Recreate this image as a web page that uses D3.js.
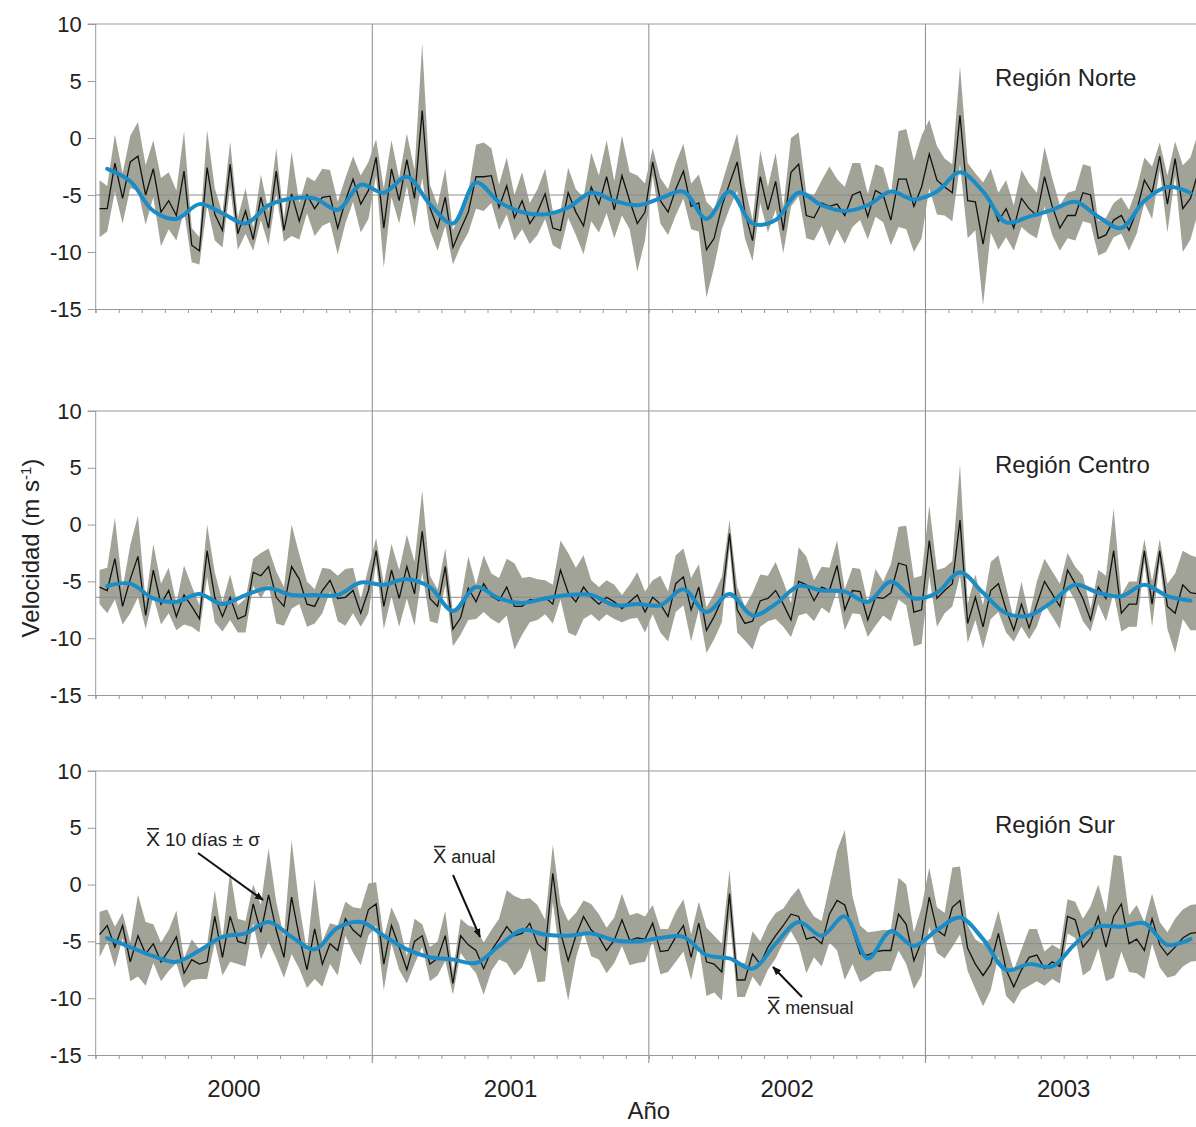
<!DOCTYPE html>
<html>
<head>
<meta charset="utf-8">
<script src="https://cdn.jsdelivr.net/npm/d3@7"></script>
<style>
  body { margin: 0; background: #fff; }
  svg text { font-family: "Liberation Sans", Arial, sans-serif; fill: #222; }
</style>
</head>
<body>
<div id="chart"></div>
<script>
// ---- data (10-day means, their sigma, monthly means) ----
const years = [2000, 2001, 2002, 2003];
const regionNames = ["Región Norte", "Región Centro", "Región Sur"];
const yTicks = [10, 5, 0, -5, -10, -15];
const annualMeans = [-5.0, -6.4, -5.2];

const norteMean = [
  -6.2,-6.2,-2.2,-5.3,-2.1,-1.6,-5.0,-2.7,-6.5,-5.5,-6.8,-2.9,-9.4,-9.9,-2.6,-6.7,-8.1,-2.3,-8.4,-6.4,-8.9,-5.2,-7.9,-2.9,-8.1,-4.9,-7.3,-5.0,-6.2,-5.2,-5.1,-7.9,-5.5,-3.6,-5.8,-4.6,
  -1.7,-7.9,-2.7,-5.5,-1.9,-5.3,2.4,-6.1,-7.9,-5.2,-9.6,-8.0,-6.5,-3.4,-3.4,-3.3,-6.1,-4.2,-7.0,-5.5,-7.5,-6.5,-4.9,-7.9,-8.1,-4.8,-6.5,-7.7,-4.3,-5.8,-3.4,-6.3,-3.3,-5.5,-7.5,-6.5,
  -2.1,-5.5,-6.5,-4.5,-2.9,-6.0,-5.7,-9.8,-8.8,-6.0,-4.0,-2.1,-6.5,-9.0,-3.4,-6.3,-3.8,-8.1,-3.0,-2.3,-6.8,-7.0,-5.7,-6.0,-5.8,-6.8,-5.0,-4.7,-6.9,-4.6,-5.0,-7.2,-3.6,-3.6,-6.0,-4.3,
  -1.4,-3.7,-4.3,-4.8,2.0,-5.5,-5.6,-9.3,-5.5,-7.3,-6.2,-7.9,-5.3,-6.2,-6.8,-3.4,-6.0,-7.9,-6.8,-6.8,-4.8,-5.0,-8.8,-8.5,-7.2,-6.8,-8.1,-6.4,-3.7,-4.8,-1.6,-5.8,-1.8,-6.2,-5.3,-3.0
];
const norteSd = [
  2.5,2.0,2.5,2.2,2.3,3.0,2.6,2.5,3.0,2.5,2.2,3.5,1.5,1.2,3.3,2.3,1.5,2.0,1.4,2.0,1.0,2.0,1.5,2.0,1.0,3.7,1.6,1.6,2.4,2.5,2.3,2.3,2.0,2.0,2.5,2.5,
  1.6,3.5,2.5,2.0,2.3,2.5,5.9,2.0,2.0,2.5,1.5,1.5,1.8,2.8,3.0,2.4,2.0,2.5,2.0,2.5,1.8,2.0,2.2,1.5,1.7,2.2,2.0,2.5,3.0,2.5,3.2,2.5,3.5,2.5,4.2,2.5,
  1.2,2.0,2.0,2.3,2.4,2.0,2.5,4.2,2.5,2.0,2.2,2.5,2.3,1.8,2.3,2.0,2.5,2.0,3.0,2.8,2.0,2.0,2.0,3.5,2.2,2.5,2.8,2.5,2.0,2.3,2.4,2.2,4.2,4.4,4.0,4.5,
  3.0,3.0,2.5,2.5,4.3,3.3,2.5,5.4,2.8,2.5,2.5,2.0,2.5,2.2,2.0,2.6,2.5,2.0,2.0,2.2,2.5,2.5,1.5,1.5,1.5,1.6,1.8,2.0,2.0,2.3,1.2,2.5,1.5,3.8,3.6,3.5
];
const norteMonthly = [
  -2.7,-3.8,-6.4,-7.1,-5.8,-6.6,-7.5,-5.9,-5.3,-5.3,-6.3,-4.1,
  -4.8,-3.4,-5.8,-7.5,-3.9,-5.6,-6.5,-6.7,-6.1,-4.8,-5.5,-5.9,
  -5.3,-4.7,-7.1,-4.7,-7.5,-7.2,-4.8,-5.9,-6.4,-5.9,-4.7,-5.4,
  -4.7,-3.0,-4.7,-7.4,-6.9,-6.3,-5.6,-6.9,-7.9,-5.5,-4.3,-4.8
];

const centroMean = [
  -5.5,-5.8,-3.0,-7.2,-4.8,-2.8,-8.0,-4.0,-7.0,-5.8,-8.1,-6.2,-7.2,-8.3,-2.3,-6.4,-8.1,-6.4,-8.3,-8.0,-4.2,-4.5,-3.7,-6.4,-7.2,-3.7,-4.8,-7.0,-7.2,-5.8,-4.9,-6.5,-6.4,-5.8,-7.8,-5.8,
  -2.3,-7.2,-4.0,-6.5,-3.7,-6.1,-0.6,-6.5,-7.2,-3.7,-9.2,-8.2,-5.6,-6.8,-5.2,-6.3,-6.7,-5.5,-7.2,-7.2,-6.6,-6.6,-6.4,-7.0,-4.0,-6.0,-6.8,-5.5,-6.4,-7.0,-6.4,-6.8,-7.4,-6.8,-6.2,-7.7,
  -6.4,-7.0,-8.1,-5.2,-4.6,-7.5,-5.5,-9.3,-8.1,-6.6,-0.8,-7.5,-8.7,-8.5,-6.7,-6.5,-5.8,-7.0,-8.4,-5.0,-5.3,-6.7,-5.5,-5.8,-3.6,-7.5,-5.8,-5.9,-8.4,-6.4,-6.5,-6.0,-3.4,-3.6,-7.7,-7.5,
  -1.4,-6.5,-5.8,-5.2,0.4,-8.7,-6.4,-9.0,-5.8,-5.2,-7.5,-9.3,-7.0,-9.1,-7.0,-5.0,-6.1,-7.2,-4.0,-5.2,-6.5,-8.4,-5.5,-6.5,-2.3,-7.8,-7.0,-7.0,-2.3,-7.0,-2.3,-7.2,-7.8,-5.3,-6.0,-6.1
];
const centroSd = [
  1.5,2.0,3.6,1.6,3.0,3.6,1.2,2.3,1.8,2.0,1.2,2.6,1.8,1.2,2.3,2.2,1.3,2.0,1.2,1.5,1.2,2.0,1.6,2.3,1.7,3.7,2.2,2.0,1.5,2.0,1.0,2.0,2.5,2.0,1.2,2.0,
  1.1,2.0,2.3,2.5,2.8,2.8,3.6,2.0,1.5,1.6,1.5,1.5,2.8,1.5,2.5,2.0,2.0,2.5,3.8,2.5,2.0,1.8,1.5,1.7,2.6,3.5,3.0,2.8,1.5,1.5,1.5,1.5,1.2,1.5,2.0,1.8,
  1.5,2.5,2.2,2.5,2.5,2.8,2.0,2.0,2.0,2.0,1.2,2.0,1.5,2.5,2.3,2.0,2.5,2.0,1.5,3.0,2.5,1.8,1.8,2.0,2.2,1.8,2.0,2.0,1.5,2.5,1.5,2.5,3.2,3.5,3.0,3.0,
  3.1,2.5,2.0,2.0,4.9,1.7,2.0,1.9,2.5,2.5,2.0,1.0,2.0,1.0,2.0,2.0,2.0,2.0,1.5,1.5,2.0,1.0,1.5,2.0,3.7,1.6,2.0,2.0,1.0,2.0,1.0,2.0,3.5,3.0,3.3,3.2
];
const centroMonthly = [
  -5.4,-5.2,-6.5,-6.8,-6.1,-7.0,-6.2,-5.6,-6.2,-6.2,-6.2,-5.1,
  -5.3,-4.8,-5.5,-7.6,-5.5,-6.5,-6.9,-6.5,-6.2,-6.2,-7.1,-7.0,
  -7.1,-5.7,-7.7,-6.1,-8.0,-7.0,-5.4,-5.8,-5.9,-6.8,-5.0,-6.5,
  -6.0,-4.2,-6.0,-7.8,-8.0,-6.8,-5.3,-6.0,-6.3,-5.3,-6.3,-6.7
];

const surMean = [
  -4.4,-3.6,-5.5,-3.6,-6.8,-4.5,-6.1,-5.2,-6.8,-5.8,-4.6,-7.8,-6.6,-7.0,-6.8,-2.8,-6.4,-2.8,-5.0,-5.2,-1.7,-4.2,-0.9,-4.0,-6.4,-1.1,-4.6,-7.5,-3.9,-7.0,-5.2,-5.8,-3.0,-4.0,-4.6,-2.2,
  -1.7,-7.0,-3.6,-5.5,-7.5,-5.0,-4.5,-7.0,-6.5,-4.5,-8.7,-4.5,-5.3,-5.8,-7.4,-5.8,-4.8,-3.7,-4.5,-4.3,-3.4,-5.2,-5.8,1.0,-4.2,-6.7,-4.5,-2.8,-4.0,-4.6,-5.8,-4.9,-3.1,-4.9,-4.7,-4.8,
  -3.4,-5.9,-5.8,-4.6,-3.6,-6.4,-3.4,-6.8,-7.0,-7.7,-0.8,-8.4,-8.4,-6.1,-7.0,-5.5,-4.5,-3.6,-2.6,-2.8,-4.8,-4.6,-5.2,-2.6,-1.4,-1.8,-4.0,-6.1,-6.2,-5.9,-5.8,-5.8,-2.6,-3.5,-6.7,-5.0,
  -1.1,-4.0,-4.5,-2.0,-1.4,-5.6,-7.0,-8.0,-7.0,-4.3,-7.5,-9.0,-7.5,-6.4,-6.2,-7.4,-6.8,-7.2,-2.8,-3.1,-5.5,-4.7,-2.8,-5.5,-2.8,-1.7,-5.2,-4.8,-5.8,-3.0,-5.3,-6.2,-5.5,-4.7,-4.3,-4.2
];
const surSd = [
  2.0,1.4,1.8,1.1,1.7,3.6,2.8,1.7,1.7,1.8,2.3,1.3,1.8,1.3,1.5,2.3,1.6,4.0,2.0,2.0,1.7,2.4,4.1,2.5,1.8,5.0,2.8,1.6,4.4,2.0,1.8,2.2,1.5,2.0,2.5,2.3,
  1.9,2.3,1.6,2.0,1.2,2.0,1.0,1.5,1.5,2.2,1.0,1.5,1.7,2.0,2.3,1.8,1.8,3.2,3.5,3.0,2.2,3.4,2.7,2.5,2.5,3.5,2.0,1.4,2.3,2.0,2.0,2.0,2.3,2.2,2.2,2.0,
  1.6,2.0,1.9,2.2,2.3,2.0,1.9,3.0,2.5,2.5,2.1,1.5,1.5,2.0,2.0,2.0,2.0,1.5,1.5,2.5,3.0,1.8,2.0,2.5,4.4,6.6,3.0,2.5,2.0,1.8,1.8,1.8,3.2,3.5,2.5,3.0,
  2.6,2.0,2.0,3.5,3.0,2.0,2.2,2.7,2.3,2.0,2.3,1.5,1.8,2.5,2.3,1.5,1.5,1.5,1.5,1.6,2.5,2.8,2.8,3.0,5.4,4.2,2.5,3.0,2.5,2.2,2.0,2.0,2.5,2.5,2.5,2.5
];
const surMonthly = [
  -4.7,-5.5,-6.3,-6.8,-5.8,-4.6,-4.3,-3.3,-4.6,-5.7,-3.8,-3.3,
  -4.5,-5.7,-6.4,-6.6,-6.9,-5.4,-4.0,-4.4,-4.5,-4.3,-4.9,-5.0,
  -4.7,-4.6,-6.2,-6.5,-7.4,-5.2,-3.3,-4.5,-2.8,-6.5,-4.1,-5.4,
  -4.0,-2.9,-4.8,-7.5,-7.0,-7.2,-5.2,-3.7,-3.7,-3.4,-5.3,-4.8
];

const panels = [
  { name: regionNames[0], mean: norteMean, sd: norteSd, monthly: norteMonthly, annual: annualMeans[0], top: 24, bottom: 309 },
  { name: regionNames[1], mean: centroMean, sd: centroSd, monthly: centroMonthly, annual: annualMeans[1], top: 411, bottom: 695 },
  { name: regionNames[2], mean: surMean, sd: surSd, monthly: surMonthly, annual: annualMeans[2], top: 771, bottom: 1055 }
];

// ---- drawing ----
const width = 1196, height = 1127;
const gridColor = "#9a9a9a";

const svg = d3.select("#chart").append("svg")
  .attr("width", width)
  .attr("height", height);

const defs = svg.append("defs");
defs.append("marker")
  .attr("id", "arrow")
  .attr("viewBox", "0 0 10 10")
  .attr("refX", 9).attr("refY", 5)
  .attr("markerWidth", 9).attr("markerHeight", 9)
  .attr("markerUnits", "userSpaceOnUse")
  .attr("orient", "auto")
  .append("path")
  .attr("d", "M0,1 L10,5 L0,9 Z")
  .attr("fill", "#111");

const x = d3.scaleLinear()
  .domain([years[0], years[years.length - 1] + 1])
  .range([95.7, 1202]);

const tenDayX = i => x(years[0] + (i + 0.5) / 36);
const monthX = j => x(years[0] + (j + 0.5) / 12);

// year boundaries, through all three panels
svg.append("g").selectAll("line")
  .data(years.slice(1))
  .enter().append("line")
  .attr("x1", d => x(d)).attr("x2", d => x(d))
  .attr("y1", panels[0].top).attr("y2", panels[2].bottom + 8)
  .attr("stroke", "#8a8a8a")
  .attr("stroke-width", 1);

panels.forEach(p => {
  const y = d3.scaleLinear().domain([-15, 10]).range([p.bottom, p.top]);
  const g = svg.append("g");

  // top frame line
  g.append("line")
    .attr("x1", x.range()[0] - 8).attr("x2", x.range()[1])
    .attr("y1", y(10)).attr("y2", y(10))
    .attr("stroke", gridColor);

  // band: mean +- sigma
  const area = d3.area()
    .x((d, i) => tenDayX(i))
    .y0((d, i) => y(d - p.sd[i]))
    .y1((d, i) => y(d + p.sd[i]));
  g.append("path")
    .datum(p.mean)
    .attr("d", area)
    .attr("fill", "#a1a397");

  // annual mean line
  g.append("line")
    .attr("x1", x.range()[0]).attr("x2", x.range()[1])
    .attr("y1", y(p.annual)).attr("y2", y(p.annual))
    .attr("stroke", "#8c8c8c")
    .attr("stroke-width", 1);

  // 10-day mean
  const line = d3.line()
    .x((d, i) => tenDayX(i))
    .y(d => y(d));
  g.append("path")
    .datum(p.mean)
    .attr("d", line)
    .attr("fill", "none")
    .attr("stroke", "#111")
    .attr("stroke-width", 1.3);

  // monthly mean, smoothed
  const smooth = d3.line()
    .x((d, i) => monthX(i))
    .y(d => y(d))
    .curve(d3.curveCatmullRom.alpha(0.5));
  g.append("path")
    .datum(p.monthly)
    .attr("d", smooth)
    .attr("fill", "none")
    .attr("stroke", "#1b8cc6")
    .attr("stroke-width", 4)
    .attr("stroke-linecap", "round");

  // left axis
  const yAxis = d3.axisLeft(y).tickValues(yTicks).tickSize(8).tickPadding(6).tickSizeOuter(0);
  const ya = g.append("g")
    .attr("transform", `translate(${x.range()[0]},0)`)
    .call(yAxis);
  ya.select(".domain").remove();
  ya.selectAll(".tick line").attr("stroke", gridColor);
  ya.selectAll(".tick text")
    .style("font-size", "22px")
    .style("font-family", '"Liberation Sans", Arial, sans-serif')
    .attr("fill", "#222")
    .text(d => d);
  g.append("line")
    .attr("x1", x.range()[0]).attr("x2", x.range()[0])
    .attr("y1", y(10)).attr("y2", y(-15) + 4)
    .attr("stroke", gridColor);

  // bottom axis with monthly ticks
  const monthTicks = d3.range(0, years.length * 12 + 1).map(j => years[0] + j / 12);
  const xAxis = d3.axisBottom(x).tickValues(monthTicks).tickSize(4).tickSizeOuter(0).tickFormat("");
  const xa = g.append("g")
    .attr("transform", `translate(0,${y(-15)})`)
    .call(xAxis);
  xa.select(".domain").attr("stroke", gridColor);
  xa.selectAll(".tick line").attr("stroke", gridColor);

  // region label
  g.append("text")
    .attr("x", 995)
    .attr("y", y(10) + 62)
    .style("font-size", "24px")
    .text(p.name);
});

// year labels
svg.append("g").selectAll("text")
  .data(years)
  .enter().append("text")
  .attr("x", d => x(d + 0.5))
  .attr("y", 1097)
  .attr("text-anchor", "middle")
  .style("font-size", "24px")
  .text(d => d);

svg.append("text")
  .attr("x", x(years[0] + years.length / 2))
  .attr("y", 1119)
  .attr("text-anchor", "middle")
  .style("font-size", "24px")
  .text("Año");

// y title
const yTitle = svg.append("text")
  .attr("transform", "translate(39,548) rotate(-90)")
  .attr("text-anchor", "middle")
  .style("font-size", "24px");
yTitle.append("tspan").text("Velocidad (m s");
yTitle.append("tspan").attr("baseline-shift", "super").style("font-size", "15px").text("-1");
yTitle.append("tspan").text(")");

// annotations with X-bar
function xbarLabel(px, py, rest, size) {
  const t = svg.append("text").attr("x", px).attr("y", py).style("font-size", (size + 2) + "px").text("X");
  const w = t.node().getComputedTextLength();
  svg.append("line")
    .attr("x1", px + 1).attr("x2", px + w - 1)
    .attr("y1", py - (size + 2) * 0.82).attr("y2", py - (size + 2) * 0.82)
    .attr("stroke", "#222").attr("stroke-width", 1.6);
  svg.append("text").attr("x", px + w + 5).attr("y", py).style("font-size", size + "px").text(rest);
}

xbarLabel(146, 846, "10 días \u00b1 \u03c3", 19);
xbarLabel(433, 863, "anual", 18);
xbarLabel(767, 1014, "mensual", 18);

const arrows = [
  [198, 853, 263, 900],
  [453, 875, 480, 937],
  [802, 997, 773, 967]
];
svg.append("g").selectAll("line")
  .data(arrows)
  .enter().append("line")
  .attr("x1", d => d[0]).attr("y1", d => d[1])
  .attr("x2", d => d[2]).attr("y2", d => d[3])
  .attr("stroke", "#111")
  .attr("stroke-width", 2)
  .attr("marker-end", "url(#arrow)");
</script>
</body>
</html>
